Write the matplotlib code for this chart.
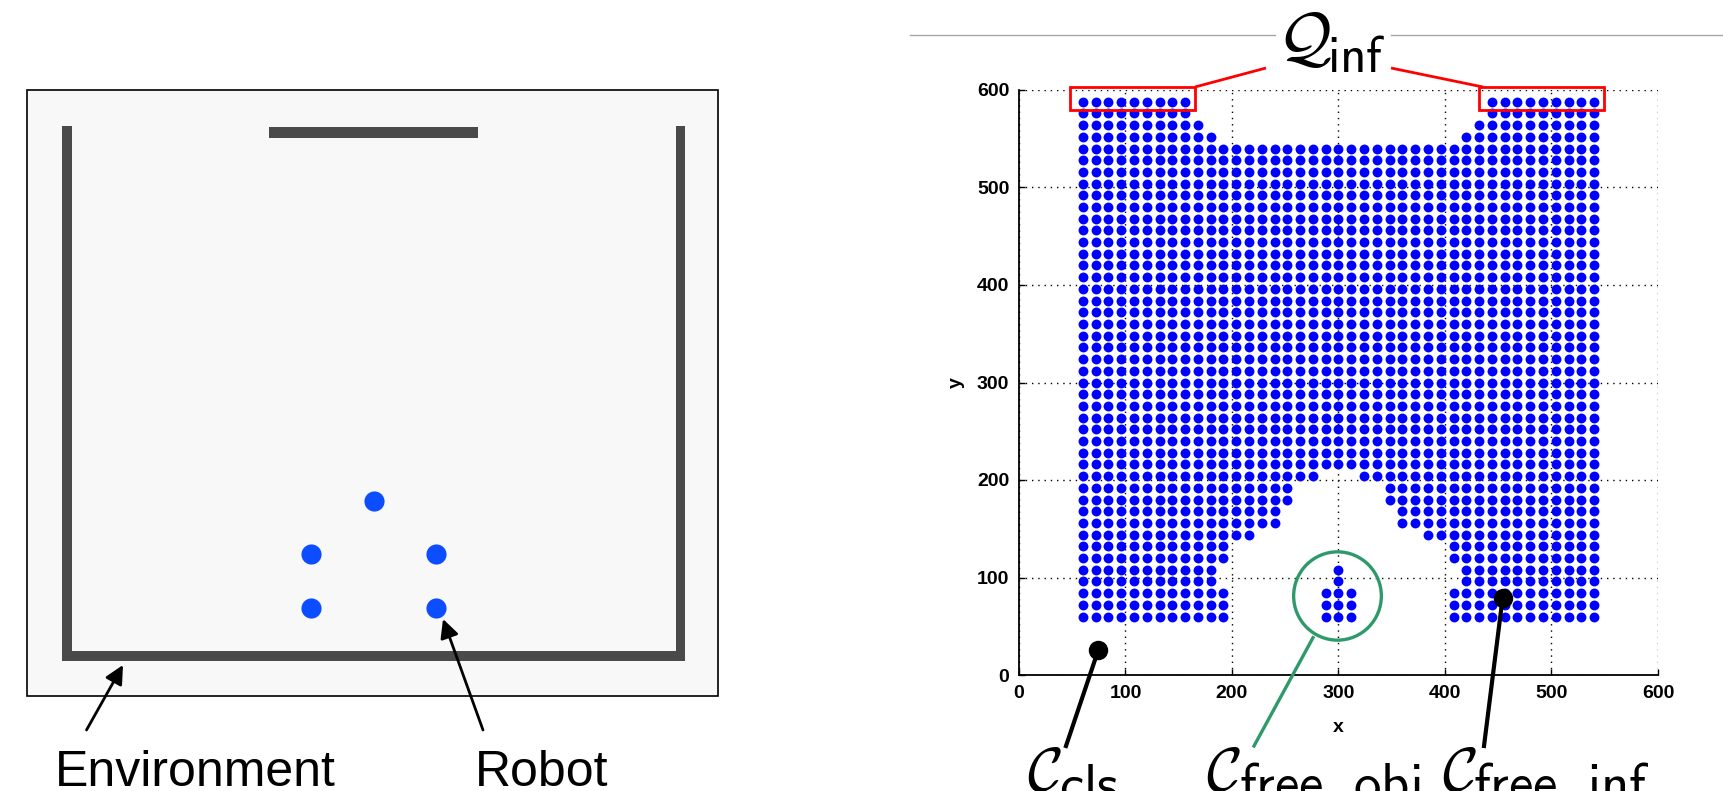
import numpy as np
import matplotlib
matplotlib.use("Agg")
import matplotlib.pyplot as plt
from matplotlib.patches import Rectangle, Ellipse
from matplotlib import font_manager

# ---------------- data ----------------
x_ticks = [0, 100, 200, 300, 400, 500, 600]
y_ticks = [0, 100, 200, 300, 400, 500, 600]
grid_step = 12

# configuration rows: y value -> list of (x_start, x_end) spans of sampled points
free_rows = [
    (60,  [(60, 192), (408, 540)]),
    (72,  [(60, 192), (408, 540)]),
    (84,  [(60, 192), (408, 540)]),
    (96,  [(60, 180), (420, 540)]),
    (108, [(60, 180), (420, 540)]),
    (120, [(60, 192), (408, 540)]),
    (132, [(60, 192), (408, 540)]),
    (144, [(60, 216), (384, 540)]),
    (156, [(60, 240), (360, 540)]),
    (168, [(60, 240), (360, 540)]),
    (180, [(60, 252), (348, 540)]),
    (192, [(60, 252), (348, 540)]),
    (204, [(60, 276), (324, 540)]),
    (552, [(60, 180), (420, 540)]),
    (564, [(60, 168), (432, 540)]),
    (576, [(60, 156), (444, 540)]),
    (588, [(60, 156), (444, 540)]),
]
full_row_y = [216, 228, 240, 252, 264, 276, 288, 300, 312, 324, 336, 348, 360,
              372, 384, 396, 408, 420, 432, 444, 456, 468, 480, 492, 504, 516,
              528, 540]
full_span = (60, 540)
obj_rows = [
    (60,  [(288, 312)]),
    (72,  [(288, 312)]),
    (84,  [(288, 312)]),
    (96,  [(300, 300)]),
    (108, [(300, 300)]),
]

# left panel (environment picture, pixel frame)
robot_x = [373.7, 311.4, 436.1, 311.4, 436.1]
robot_y = [500.8, 554.4, 554.4, 607.5, 607.5]
# walls: (x0, y0, x1, y1)
walls = [
    (62.0, 126.3, 72.4, 660.6),
    (62.0, 651.0, 685.0, 660.6),
    (675.6, 126.3, 685.0, 660.6),
    (269.4, 127.0, 477.7, 137.5),
]

# ---------------- fonts ----------------
avail = {f.name for f in font_manager.fontManager.ttflist}
sans = "Liberation Sans" if "Liberation Sans" in avail else "DejaVu Sans"
plt.rcParams["font.family"] = [sans, "DejaVu Sans"]
plt.rcParams["mathtext.fontset"] = "cm"

W, H = 1724, 791
fig = plt.figure(figsize=(W / 100, H / 100), dpi=100)
fig.patch.set_facecolor("white")

# ---------------- right panel ----------------
ax = fig.add_axes([1019 / W, (H - 675) / H, 639 / W, 585 / H])
px, py = [], []
rows = free_rows + [(y, [full_span]) for y in full_row_y] + obj_rows
for y, spans in rows:
    for x0, x1 in spans:
        xs = np.arange(x0, x1 + 1, grid_step)
        px.extend(xs)
        py.extend([y] * len(xs))
ax.plot(px, py, "o", color="#0000ff", markersize=7.1, markeredgewidth=0,
        zorder=3)

ax.set_xlim(0, 600)
ax.set_ylim(0, 600)
ax.set_xticks(x_ticks)
ax.set_yticks(y_ticks)
ax.grid(True, color="black", linestyle=(0, (1.0, 3.5)), linewidth=1.0)
ax.set_axisbelow(True)
for s in ["top", "right"]:
    ax.spines[s].set_visible(False)
for s in ["left", "bottom"]:
    ax.spines[s].set_linewidth(1.3)
ax.tick_params(direction="in", length=4, width=1, pad=7)
for lab in ax.get_xticklabels() + ax.get_yticklabels():
    lab.set_fontweight("bold")
    lab.set_fontsize(14)
ax.set_xlabel("x", fontsize=14, fontweight="bold")
ax.xaxis.set_label_coords(0.5, -0.075)
ax.set_ylabel("y", fontsize=14, fontweight="bold")
ax.yaxis.set_label_coords(-0.085, 0.5)

# Q_inf boxes
red = "#ff0000"
for x0 in (48, 432):
    ax.add_patch(Rectangle((x0, 580), 117, 23, fill=False, ec=red, lw=2.0,
                           clip_on=False, zorder=5))

# ---------------- overlay (pixel frame) ----------------
ov = fig.add_axes([0, 0, 1, 1])
ov.set_xlim(0, W)
ov.set_ylim(H, 0)
ov.axis("off")
ov.patch.set_visible(False)

# top gray rule (interrupted by the label)
ov.plot([910, 1275], [35.3, 35.3], color="#a6a6a6", lw=1.0)
ov.plot([1391, W], [35.3, 35.3], color="#a6a6a6", lw=1.0)

# Q_inf label
ov.text(1277, 60, r"$\mathcal{Q}$", fontsize=48, ha="left", va="baseline")
ov.text(1327, 72, r"$\mathsf{inf}$", fontsize=37, ha="left", va="baseline")
ov.plot([1195, 1266], [87, 68], color=red, lw=2.0, solid_capstyle="butt")
ov.plot([1391, 1483], [68, 87], color=red, lw=2.0, solid_capstyle="butt")

# callouts
ov.plot([1098.3], [650], "o", color="black", markersize=13)
ov.plot([1098.3, 1066], [650, 746], color="black", lw=3.0)
ov.plot([1502.6], [598], "o", color="black", markersize=13)
ov.plot([1502.6, 1484], [598, 746], color="black", lw=3.0)
green = "#2e9a6b"
ov.add_patch(Ellipse((1337.5, 596), 87.7, 88.3, fill=False, ec=green, lw=2.4))
ov.plot([1313, 1254], [637.7, 746], color=green, lw=2.4)

# set labels: calligraphic C with sans-serif subscript pieces
for xc in (1027, 1206, 1442):
    ov.text(xc, 791, r"$\mathcal{C}$", fontsize=44, ha="left", va="baseline")
for xs, sub in [(1059, r"$\mathsf{cls}$"),
                (1239, r"$\mathsf{free\_}$"), (1353, r"$\mathsf{obj}$"),
                (1473, r"$\mathsf{free\_}$"), (1587, r"$\mathsf{inf}$")]:
    ov.text(xs, 801, sub, fontsize=39.5, ha="left", va="baseline")

# ---------------- left panel ----------------
ov.add_patch(Rectangle((27.5, 90), 690.5, 606, fc="#f8f8f8", ec="black",
                       lw=1.2))
for x0, y0, x1, y1 in walls:
    ov.add_patch(Rectangle((x0, y0), x1 - x0, y1 - y0, fc="#4a4a4a", ec="none"))
ov.plot(robot_x, robot_y, "o", color="#0b4dff", markersize=14.5,
        markeredgewidth=0)

ov.annotate("", xy=(123, 665), xytext=(86.5, 730),
            arrowprops=dict(arrowstyle="-|>", lw=2.0, color="black",
                            mutation_scale=28, shrinkA=0, shrinkB=0))
ov.annotate("", xy=(443, 619), xytext=(483, 730),
            arrowprops=dict(arrowstyle="-|>", lw=2.0, color="black",
                            mutation_scale=28, shrinkA=0, shrinkB=0))
ov.text(55, 786, "Environment", fontsize=36, ha="left", va="baseline")
ov.text(475, 786, "Robot", fontsize=36, ha="left", va="baseline")

fig.savefig("out.png", dpi=100)
